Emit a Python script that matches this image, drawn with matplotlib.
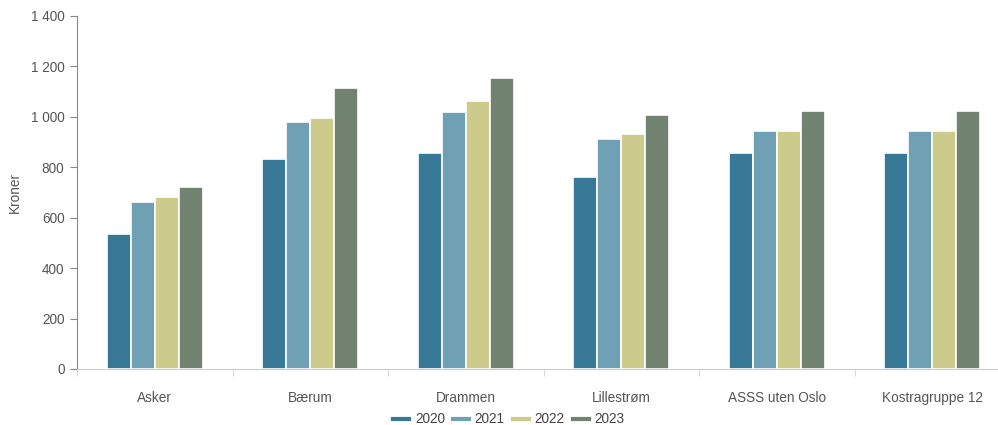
import matplotlib
matplotlib.use("Agg")
import matplotlib.pyplot as plt
from matplotlib.lines import Line2D
from matplotlib.ticker import FuncFormatter
import numpy as np

plt.rcParams['font.family'] = ['Liberation Sans', 'DejaVu Sans']

categories = ['Asker', 'Bærum', 'Drammen', 'Lillestrøm', 'ASSS uten Oslo', 'Kostragruppe 12']
years = ['2020', '2021', '2022', '2023']
v2020 = [535, 833, 857, 762, 857, 857]
v2021 = [662, 980, 1019, 911, 945, 945]
v2022 = [682, 997, 1062, 932, 945, 945]
v2023 = [722, 1115, 1154, 1006, 1023, 1023]
series = [v2020, v2021, v2022, v2023]
colors = ['#367896', '#6fa0b3', '#cccb8c', '#728270']

fig = plt.figure(figsize=(9.98, 4.25), dpi=100)
ax = fig.add_axes([77 / 998, 56 / 425, 933 / 998, 353 / 425])

x = np.arange(len(categories))
slot = 0.155
for i, (vals, col) in enumerate(zip(series, colors)):
    ax.bar(x + (i - 1.5) * slot, vals, width=slot, color=col,
           edgecolor='white', linewidth=1.2, label=years[i])

ax.set_xlim(-0.5, len(categories) - 0.5)
ax.set_ylim(0, 1400)
ax.set_yticks(range(0, 1401, 200))
ax.yaxis.set_major_formatter(FuncFormatter(lambda v, p: f"{int(v):,}".replace(',', ' ')))

ax.set_xticks(x)
ax.set_xticklabels(categories)
ax.set_xticks(np.arange(len(categories) + 1) - 0.5, minor=True)
ax.tick_params(axis='x', which='major', length=0, pad=16, labelsize=9.8, labelcolor='#555555')
ax.tick_params(axis='x', which='minor', length=5, color='#cccccc', direction='out')
ax.tick_params(axis='y', length=5, color='#888888', labelsize=9.8, labelcolor='#555555', pad=4)

for s in ['top', 'right']:
    ax.spines[s].set_visible(False)
ax.spines['left'].set_color('#888888')
ax.spines['bottom'].set_color('#cccccc')

ax.set_ylabel('Kroner', fontsize=9.8, color='#555555')
ax.yaxis.set_label_coords(-55 / 933, 0.5)

handles = [Line2D([0], [0], color=c, lw=3) for c in colors]
fig.legend(handles, years, loc='center', bbox_to_anchor=(0.51, 0.013), ncol=4,
           frameon=False, fontsize=9.8, handlelength=1.2, handletextpad=0.4,
           columnspacing=0.6, labelcolor='#444444')

fig.savefig('out.png', dpi=100)
